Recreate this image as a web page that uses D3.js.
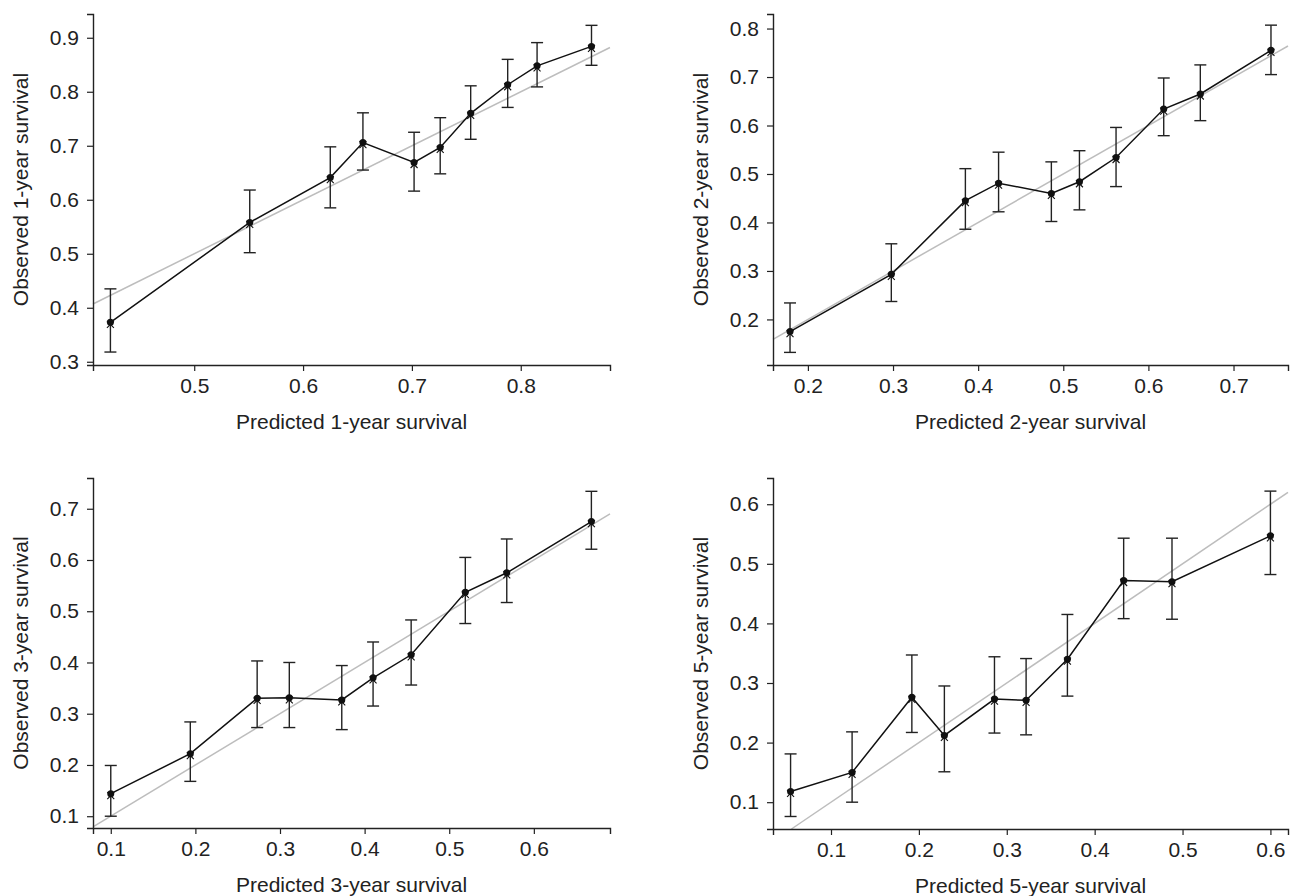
<!DOCTYPE html>
<html>
<head>
<meta charset="utf-8">
<script src="https://cdn.jsdelivr.net/npm/d3@7/dist/d3.min.js"></script>
<style>
  body { margin: 0; background: #fff; }
  svg text { font-family: "Liberation Sans", Arial, sans-serif; fill: #222; }
</style>
</head>
<body>
<svg id="chart" width="1290" height="896"></svg>
<script>
// calibration data
var pred1 = [0.423, 0.551, 0.625, 0.655, 0.702, 0.726, 0.754, 0.788, 0.815, 0.865];
var obs1  = [0.373, 0.558, 0.641, 0.706, 0.669, 0.697, 0.760, 0.813, 0.848, 0.884];
var lo1   = [0.318, 0.502, 0.585, 0.655, 0.616, 0.648, 0.712, 0.771, 0.809, 0.849];
var hi1   = [0.435, 0.618, 0.698, 0.761, 0.725, 0.752, 0.811, 0.860, 0.891, 0.923];

var pred2 = [0.179, 0.298, 0.385, 0.424, 0.486, 0.519, 0.562, 0.618, 0.661, 0.744];
var obs2  = [0.175, 0.293, 0.445, 0.481, 0.460, 0.484, 0.534, 0.634, 0.665, 0.755];
var lo2   = [0.132, 0.237, 0.386, 0.422, 0.402, 0.426, 0.474, 0.579, 0.610, 0.705];
var hi2   = [0.234, 0.356, 0.511, 0.545, 0.525, 0.548, 0.596, 0.698, 0.725, 0.807];

var pred3 = [0.100, 0.194, 0.273, 0.311, 0.373, 0.410, 0.455, 0.519, 0.568, 0.668];
var obs3  = [0.144, 0.222, 0.330, 0.331, 0.327, 0.370, 0.415, 0.537, 0.575, 0.675];
var lo3   = [0.100, 0.168, 0.273, 0.273, 0.269, 0.315, 0.356, 0.476, 0.517, 0.621];
var hi3   = [0.199, 0.284, 0.403, 0.400, 0.394, 0.440, 0.483, 0.605, 0.641, 0.734];

var pred5 = [0.054, 0.124, 0.192, 0.229, 0.286, 0.322, 0.369, 0.433, 0.488, 0.600];
var obs5  = [0.118, 0.150, 0.276, 0.212, 0.273, 0.271, 0.340, 0.472, 0.470, 0.547];
var lo5   = [0.076, 0.100, 0.217, 0.151, 0.216, 0.213, 0.278, 0.408, 0.407, 0.482];
var hi5   = [0.181, 0.218, 0.347, 0.295, 0.344, 0.341, 0.415, 0.543, 0.543, 0.622];

var xTicks1 = [0.5, 0.6, 0.7, 0.8], yTicks1 = [0.3, 0.4, 0.5, 0.6, 0.7, 0.8, 0.9];
var xTicks2 = [0.2, 0.3, 0.4, 0.5, 0.6, 0.7], yTicks2 = [0.2, 0.3, 0.4, 0.5, 0.6, 0.7, 0.8];
var xTicks3 = [0.1, 0.2, 0.3, 0.4, 0.5, 0.6], yTicks3 = [0.1, 0.2, 0.3, 0.4, 0.5, 0.6, 0.7];
var xTicks5 = [0.1, 0.2, 0.3, 0.4, 0.5, 0.6], yTicks5 = [0.1, 0.2, 0.3, 0.4, 0.5, 0.6];

var panels = [
  { left: 93,  top: 14,  w: 517, h: 351, xd: [0.407, 0.882], yd: [0.294, 0.944],
    pred: pred1, obs: obs1, lo: lo1, hi: hi1, xt: xTicks1, yt: yTicks1, n: '1' },
  { left: 773, top: 14,  w: 515, h: 351, xd: [0.159, 0.764], yd: [0.106, 0.830],
    pred: pred2, obs: obs2, lo: lo2, hi: hi2, xt: xTicks2, yt: yTicks2, n: '2' },
  { left: 93,  top: 478, w: 517, h: 350, xd: [0.079, 0.690], yd: [0.077, 0.760],
    pred: pred3, obs: obs3, lo: lo3, hi: hi3, xt: xTicks3, yt: yTicks3, n: '3' },
  { left: 773, top: 478, w: 515, h: 351, xd: [0.034, 0.620], yd: [0.055, 0.644],
    pred: pred5, obs: obs5, lo: lo5, hi: hi5, xt: xTicks5, yt: yTicks5, n: '5' }
];

var svg = d3.select('#chart');

panels.forEach(function(p) {
  var g = svg.append('g').attr('transform', 'translate(' + p.left + ',' + p.top + ')');
  var x = d3.scaleLinear().domain(p.xd).range([0, p.w]);
  var y = d3.scaleLinear().domain(p.yd).range([p.h, 0]);

  // reference line y = x, clipped to plot area
  var a = Math.max(p.xd[0], p.yd[0]), b = Math.min(p.xd[1], p.yd[1]);
  g.append('line')
    .attr('x1', x(a)).attr('y1', y(a)).attr('x2', x(b)).attr('y2', y(b))
    .attr('stroke', '#bdbdbd').attr('stroke-width', 1.5);

  var pts = p.pred.map(function(v, i) {
    return { x: v, y: p.obs[i], lo: p.lo[i], hi: p.hi[i] };
  });

  // error bars
  var eb = g.selectAll('.eb').data(pts).enter().append('g')
    .attr('stroke', '#222').attr('stroke-width', 1.4);
  eb.append('line')
    .attr('x1', function(d) { return x(d.x); }).attr('x2', function(d) { return x(d.x); })
    .attr('y1', function(d) { return y(d.lo); }).attr('y2', function(d) { return y(d.hi); });
  eb.append('line')
    .attr('x1', function(d) { return x(d.x) - 6; }).attr('x2', function(d) { return x(d.x) + 6; })
    .attr('y1', function(d) { return y(d.lo); }).attr('y2', function(d) { return y(d.lo); });
  eb.append('line')
    .attr('x1', function(d) { return x(d.x) - 6; }).attr('x2', function(d) { return x(d.x) + 6; })
    .attr('y1', function(d) { return y(d.hi); }).attr('y2', function(d) { return y(d.hi); });

  // connecting line
  g.append('path').datum(pts)
    .attr('fill', 'none').attr('stroke', '#111').attr('stroke-width', 1.5)
    .attr('d', d3.line().x(function(d) { return x(d.x); }).y(function(d) { return y(d.y); }));

  // markers: dot plus small x
  g.selectAll('.dot').data(pts).enter().append('circle')
    .attr('cx', function(d) { return x(d.x); }).attr('cy', function(d) { return y(d.y); })
    .attr('r', 3.5).attr('fill', '#111');
  g.selectAll('.cross').data(pts).enter().append('path')
    .attr('transform', function(d) { return 'translate(' + x(d.x) + ',' + (y(d.y) + 2) + ')'; })
    .attr('d', 'M-3.5,-3.5L3.5,3.5M-3.5,3.5L3.5,-3.5')
    .attr('stroke', '#111').attr('stroke-width', 1.1);

  // axes
  var xa = g.append('g').attr('transform', 'translate(0,' + p.h + ')')
    .call(d3.axisBottom(x).tickValues(p.xt).tickFormat(d3.format('.1f')).tickSize(6).tickPadding(7));
  var ya = g.append('g')
    .call(d3.axisLeft(y).tickValues(p.yt).tickFormat(d3.format('.1f')).tickSize(6).tickPadding(8));
  [xa, ya].forEach(function(ax) {
    ax.select('.domain').attr('stroke', '#222').attr('stroke-width', 1.4);
    ax.selectAll('.tick line').attr('stroke', '#222').attr('stroke-width', 1.2);
    ax.selectAll('text').style('font-size', '21px').attr('fill', '#222');
  });

  g.append('text')
    .attr('x', p.w / 2).attr('y', p.h + 64)
    .attr('text-anchor', 'middle').style('font-size', '21px')
    .text('Predicted ' + p.n + '-year survival');
  g.append('text')
    .attr('transform', 'translate(-65,' + (p.h / 2) + ') rotate(-90)')
    .attr('text-anchor', 'middle').style('font-size', '21px')
    .text('Observed ' + p.n + '-year survival');
});
</script>
</body>
</html>
